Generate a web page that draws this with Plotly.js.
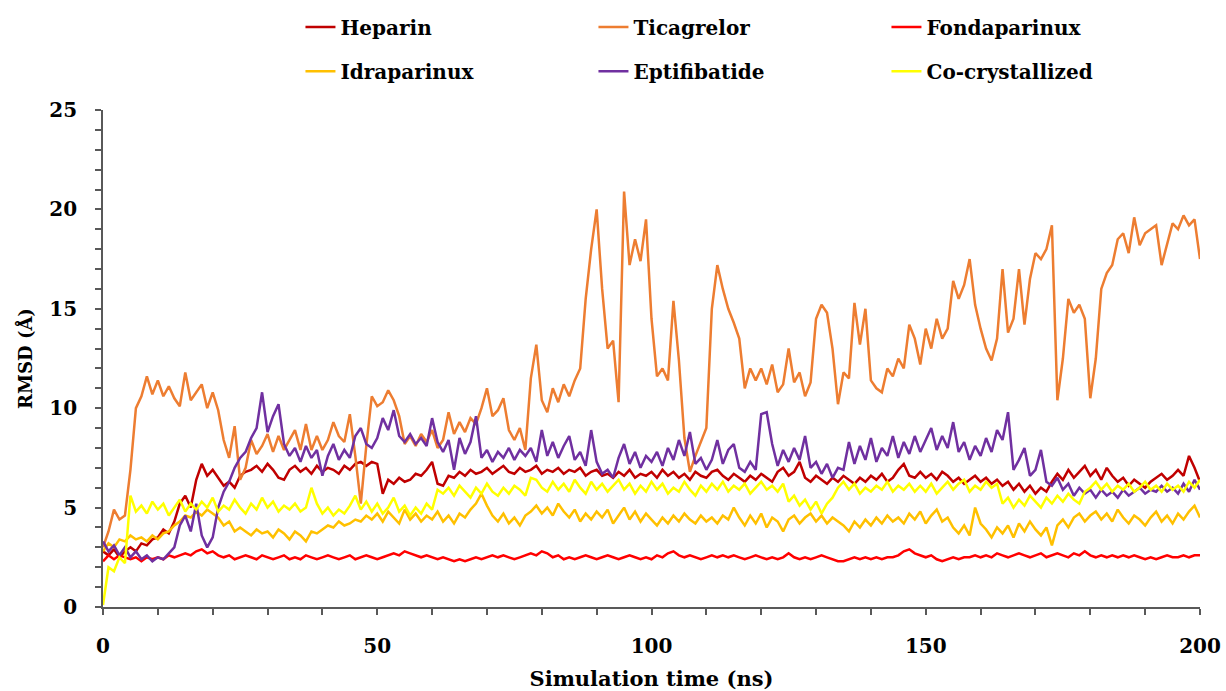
<!DOCTYPE html>
<html>
<head>
<meta charset="utf-8">
<script src="https://cdn.plot.ly/plotly-3.0.1.min.js"></script>
<style>html,body{margin:0;padding:0;background:#fff;}#chart{width:1226px;height:691px;}</style>
</head>
<body>
<div id="chart"></div>
<script>
const seriesNames = ["Heparin", "Ticagrelor", "Fondaparinux", "Idraparinux", "Eptifibatide", "Co-crystallized"];

const heparin = [2.8,2.6,2.9,2.5,2.8,3.0,2.8,3.2,3.1,3.4,3.5,3.9,3.7,4.3,5.2,5.6,5.0,6.4,7.2,6.6,
6.9,6.5,6.1,6.3,6.0,6.6,6.8,6.9,7.1,6.8,7.2,6.9,6.5,6.4,6.9,7.1,6.8,7.0,6.7,7.1,
6.8,7.0,6.9,6.7,7.1,6.9,7.2,7.3,7.1,7.3,7.2,5.7,6.4,6.2,6.5,6.3,6.4,6.7,6.6,6.9,
7.3,6.2,6.1,6.6,6.5,6.8,6.6,6.9,6.7,6.8,7.0,6.7,6.9,7.1,6.8,6.7,7.0,6.8,6.9,7.1,
6.7,6.9,6.8,7.0,6.7,6.9,6.8,7.0,6.6,6.8,6.9,6.6,6.7,6.5,6.8,6.6,6.9,6.5,6.7,6.6,
6.8,6.5,6.9,6.6,6.8,6.5,6.7,6.4,6.8,6.6,6.5,6.8,6.9,6.6,6.4,6.7,6.5,6.3,6.6,6.4,
6.7,6.5,6.3,6.8,7.0,6.6,6.8,7.3,6.5,6.3,6.6,6.4,6.2,6.5,6.3,6.6,6.4,6.2,6.5,6.3,
6.6,6.4,6.7,6.3,6.5,6.9,7.2,6.6,6.5,6.8,6.5,6.7,6.4,6.8,6.6,6.3,6.5,6.2,6.4,6.6,
6.3,6.5,6.2,6.4,6.1,6.3,5.9,6.2,5.8,6.1,5.7,6.0,5.8,6.3,6.7,6.4,6.9,6.5,6.8,7.1,
6.6,6.9,6.4,7.0,6.6,6.3,6.5,6.1,6.4,6.2,6.0,6.3,6.5,6.7,6.4,6.6,6.9,6.6,7.6,7.0,6.3];

const ticagrelor = [3.0,3.8,4.9,4.4,4.6,6.9,10.0,10.6,11.6,10.7,11.4,10.6,11.1,10.5,10.1,11.8,10.4,10.8,11.2,10.0,
10.8,9.9,8.4,7.5,9.1,6.4,7.0,8.4,7.7,8.1,8.7,7.8,8.6,7.9,8.4,8.9,7.9,9.2,7.9,8.6,
7.9,8.4,9.3,8.6,8.3,9.7,7.6,5.2,8.1,10.6,10.1,10.3,10.9,10.4,9.6,8.2,8.6,8.1,8.7,8.3,
8.9,8.0,8.4,9.8,8.7,9.3,8.8,9.5,9.2,10.0,11.0,9.6,9.9,10.5,8.9,8.4,9.0,7.9,11.5,13.2,
10.4,9.8,11.0,10.3,11.2,10.6,11.4,12.0,15.5,18.0,20.0,16.0,13.0,13.4,10.3,20.9,17.2,18.5,17.4,19.5,
14.5,11.6,12.0,11.4,15.4,12.4,8.5,6.8,7.6,8.3,9.0,15.0,17.2,16.0,15.0,14.3,13.5,11.0,12.0,11.4,
12.0,11.2,12.2,10.8,11.2,13.0,11.3,11.8,10.6,11.3,14.5,15.2,14.8,13.0,10.2,11.8,11.5,15.3,13.2,15.0,
11.4,11.0,10.8,12.0,11.6,12.5,12.0,14.2,13.5,12.2,14.0,13.0,14.5,13.5,14.0,16.4,15.5,16.2,17.5,15.2,
14.0,13.0,12.4,13.5,17.0,13.8,14.5,17.0,14.2,16.5,17.8,17.5,18.0,19.2,10.4,12.5,15.5,14.8,15.2,14.5,
10.5,12.5,16.0,16.8,17.2,18.5,18.8,17.8,19.6,18.2,18.8,19.0,19.2,17.2,18.2,19.3,19.0,19.7,19.2,19.5,17.5];

const fondaparinux = [2.3,2.6,2.4,2.6,2.5,2.4,2.5,2.3,2.5,2.4,2.5,2.4,2.6,2.5,2.6,2.7,2.6,2.8,2.9,2.7,
2.8,2.6,2.5,2.6,2.4,2.5,2.6,2.5,2.4,2.6,2.5,2.4,2.5,2.6,2.4,2.5,2.4,2.6,2.5,2.4,
2.5,2.6,2.5,2.4,2.5,2.6,2.4,2.5,2.6,2.5,2.4,2.5,2.6,2.7,2.6,2.8,2.7,2.6,2.5,2.6,
2.5,2.4,2.5,2.4,2.3,2.4,2.3,2.4,2.5,2.4,2.5,2.6,2.5,2.6,2.5,2.4,2.5,2.6,2.7,2.6,
2.8,2.7,2.5,2.6,2.4,2.5,2.4,2.5,2.6,2.5,2.4,2.5,2.6,2.5,2.4,2.5,2.6,2.5,2.4,2.5,
2.4,2.6,2.5,2.7,2.8,2.6,2.5,2.6,2.5,2.4,2.5,2.6,2.5,2.6,2.5,2.6,2.5,2.4,2.5,2.6,
2.5,2.4,2.5,2.4,2.5,2.7,2.5,2.4,2.5,2.4,2.5,2.6,2.5,2.4,2.3,2.3,2.4,2.5,2.4,2.5,
2.4,2.5,2.4,2.5,2.5,2.6,2.8,2.9,2.7,2.6,2.5,2.6,2.4,2.3,2.4,2.5,2.4,2.5,2.5,2.6,
2.5,2.6,2.5,2.7,2.6,2.5,2.6,2.7,2.6,2.5,2.6,2.7,2.5,2.6,2.7,2.6,2.5,2.7,2.6,2.8,
2.6,2.5,2.6,2.5,2.6,2.5,2.6,2.5,2.6,2.5,2.4,2.5,2.4,2.5,2.6,2.5,2.5,2.6,2.5,2.6,2.6];

const idraparinux = [2.8,3.2,3.0,3.4,3.3,3.6,3.4,3.5,3.3,3.6,3.4,3.7,3.8,4.1,4.3,4.6,4.5,4.8,4.6,4.9,
4.7,4.5,4.1,4.3,3.8,4.0,3.8,3.6,3.9,3.7,3.8,3.5,3.9,3.7,3.4,3.8,3.6,3.3,3.8,3.7,
3.9,4.1,4.0,4.3,4.1,4.2,4.4,4.3,4.6,4.4,4.7,4.3,4.8,4.5,4.2,4.9,4.4,4.7,4.3,4.6,
4.4,4.8,4.3,4.6,4.2,4.7,4.5,4.9,5.2,5.7,5.1,4.6,4.3,4.7,4.2,4.5,4.1,4.6,4.8,5.1,
4.7,5.0,4.6,5.2,4.8,4.5,4.9,4.3,4.7,4.4,4.8,4.5,4.9,4.2,4.6,5.0,4.4,4.8,4.3,4.7,
4.4,4.1,4.5,4.2,4.6,4.3,4.7,4.4,4.2,4.6,4.3,4.5,4.2,4.6,4.4,5.0,4.5,4.1,4.6,4.2,
4.7,4.0,4.5,4.3,3.8,4.4,4.6,4.2,4.5,4.7,4.3,4.6,4.2,4.5,4.3,4.1,3.8,4.3,4.0,4.4,
4.1,4.5,4.2,4.6,4.3,4.5,4.2,4.7,4.4,4.8,4.2,4.6,4.9,4.3,4.5,4.0,3.7,4.1,3.6,5.0,
4.2,3.9,3.5,4.0,3.7,4.1,3.5,4.2,3.8,4.3,3.9,3.6,4.0,3.1,4.1,4.4,4.0,4.5,4.7,4.3,
4.6,4.8,4.4,4.7,4.3,4.9,4.5,4.2,4.6,4.4,4.1,4.5,4.8,4.3,4.6,4.2,4.7,4.4,4.8,5.1,4.5];

const eptifibatide = [3.3,2.8,3.1,2.6,3.0,2.5,2.8,2.4,2.6,2.3,2.5,2.4,2.7,3.0,4.1,4.6,3.8,5.2,3.6,3.0,
3.5,5.0,5.8,6.3,7.0,7.5,7.8,8.5,9.0,10.8,8.8,9.6,10.2,8.2,7.6,8.0,7.3,8.1,7.5,7.9,
6.6,7.6,8.2,7.4,7.9,7.5,8.6,9.0,8.2,8.0,8.5,9.5,8.9,9.9,8.6,8.3,8.7,8.2,8.5,8.1,
9.5,8.3,7.8,8.4,6.9,8.5,7.7,8.3,9.6,7.5,7.9,7.3,7.8,7.5,8.0,7.4,7.9,7.6,8.0,7.3,
8.9,7.6,8.3,7.5,8.1,8.6,7.4,7.8,7.1,8.9,7.3,6.7,6.9,6.5,7.5,8.2,7.2,7.8,7.0,7.6,
7.3,7.8,7.1,8.0,7.4,8.4,7.6,8.8,7.2,7.5,6.9,7.4,8.4,7.2,7.9,8.2,7.0,6.8,7.3,6.9,
9.7,9.8,8.2,7.1,7.9,7.3,8.0,7.4,8.6,7.0,7.3,6.7,7.2,6.5,7.0,6.9,8.3,7.2,8.1,7.4,
8.5,7.3,8.0,7.6,8.6,7.5,8.3,7.7,8.6,7.8,8.4,9.0,7.9,8.6,8.0,9.3,7.8,8.3,7.4,8.1,
7.6,8.5,7.8,8.9,8.4,9.8,6.9,7.4,8.0,6.6,6.9,7.9,6.3,6.1,6.5,5.9,6.2,5.6,6.0,5.7,
5.9,5.5,5.9,5.6,5.8,5.5,5.9,5.6,5.8,6.0,5.7,5.9,5.8,6.1,5.8,6.0,5.7,6.2,5.8,6.4,5.9];

const cocrystallized = [0.1,2.0,1.8,2.5,2.2,5.6,4.8,5.1,4.7,5.3,4.9,5.2,4.6,5.0,5.4,4.8,5.2,4.9,5.3,5.0,
5.5,4.8,5.1,4.9,5.4,5.0,4.7,5.2,4.9,5.5,5.0,5.3,4.8,5.1,4.9,5.2,4.8,5.0,6.0,5.2,
4.7,5.0,4.6,4.9,4.7,5.1,5.6,4.9,5.3,4.8,5.2,4.7,5.0,5.5,4.8,5.1,4.6,5.0,4.7,5.2,
4.9,5.9,5.7,6.0,5.6,6.1,5.8,5.5,6.0,5.7,6.2,5.8,5.6,6.0,5.7,6.1,5.9,5.6,6.5,6.4,
6.0,5.8,6.3,5.9,6.2,5.8,6.4,6.0,5.7,6.3,5.9,6.2,5.8,6.1,6.4,5.9,6.2,5.7,6.1,5.8,
6.3,5.9,6.2,5.7,6.0,5.8,6.3,5.9,5.6,6.1,5.8,6.2,5.9,6.3,5.8,6.1,5.9,6.2,5.7,6.0,
6.3,5.9,6.1,5.8,6.2,5.3,5.6,5.1,5.4,4.9,5.3,4.7,5.2,5.5,6.0,6.3,5.9,6.2,5.7,6.0,
5.8,6.1,5.9,6.3,5.8,6.1,5.9,6.2,5.8,6.1,5.8,6.2,5.7,6.0,6.3,5.9,6.2,6.4,5.8,6.1,
5.9,6.3,6.0,6.2,5.2,5.5,5.0,5.4,5.1,5.6,5.3,5.0,5.5,5.2,5.6,5.3,5.7,5.4,5.2,5.8,
6.0,6.3,5.9,6.2,5.8,6.1,5.9,6.2,5.8,6.0,6.3,5.9,6.1,5.8,6.2,5.9,6.1,5.8,6.3,6.0,6.4];

const xTickVals = [0, 50, 100, 150, 200];
const yTickVals = [0, 5, 10, 15, 20, 25];

const time = heparin.map((_, i) => i);
const allSeries = [heparin, ticagrelor, fondaparinux, idraparinux, eptifibatide, cocrystallized];
const colors = ["#C00000", "#ED7D31", "#FF0000", "#FFC000", "#7030A0", "#FFFF00"];

const traces = allSeries.map((ys, k) => ({
  x: time, y: ys, type: "scatter", mode: "lines",
  name: seriesNames[k],
  line: {color: colors[k], width: 2.5},
  legend: k < 3 ? "legend" : "legend2"
}));

const FONT = "DejaVu Serif";
const legendCommon = {
  orientation: "h", xanchor: "left", yanchor: "middle",
  font: {family: FONT, size: 20, color: "#000", weight: "bold"},
  entrywidth: 248, entrywidthmode: "pixels", bgcolor: "rgba(0,0,0,0)", itemwidth: 30
};

const layout = {
  width: 1226, height: 691,
  margin: {l: 103, r: 26, t: 110, b: 84, autoexpand: false},
  paper_bgcolor: "#fff", plot_bgcolor: "#fff",
  showlegend: true,
  legend: Object.assign({}, legendCommon, {x: 0.18, y: 1.167}),
  legend2: Object.assign({}, legendCommon, {x: 0.18, y: 1.078}),
  xaxis: {
    range: [0, 200], tickvals: xTickVals, ticks: "outside", ticklen: 6, tickwidth: 1.5,
    tickcolor: "#595959", showline: true, linecolor: "#595959", linewidth: 1.8,
    showgrid: false, zeroline: false, ticklabelstandoff: 14,
    minor: {dtick: 10, ticks: "outside", ticklen: 6, tickwidth: 1.5, tickcolor: "#595959", showgrid: false},
    tickfont: {family: FONT, size: 20, color: "#000", weight: "bold"},
    title: {text: "Simulation time (ns)", font: {family: FONT, size: 21, color: "#000", weight: "bold"}, standoff: 16}
  },
  yaxis: {
    range: [0, 25], tickvals: yTickVals, ticks: "outside", ticklen: 6, tickwidth: 1.5,
    tickcolor: "#595959", showline: true, linecolor: "#595959", linewidth: 1.8,
    showgrid: false, zeroline: false, ticklabelstandoff: 14,
    minor: {dtick: 1, ticks: "outside", ticklen: 6, tickwidth: 1.5, tickcolor: "#595959", showgrid: false},
    tickfont: {family: FONT, size: 20, color: "#000", weight: "bold"},
    title: {text: "RMSD (Å)", font: {family: FONT, size: 18, color: "#000", weight: "bold"}, standoff: 12}
  }
};

Plotly.newPlot("chart", traces, layout, {displayModeBar: false, responsive: false});
</script>
</body>
</html>
